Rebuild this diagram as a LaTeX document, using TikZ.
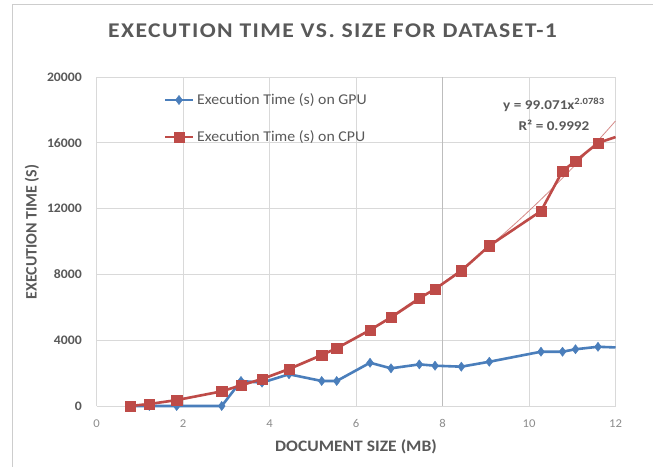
\documentclass[tikz,border=0pt]{standalone}
\usepackage{fontspec}
\setmainfont{Carlito}
\usetikzlibrary{plotmarks}

\definecolor{txtgray}{HTML}{595959}
\definecolor{ticklight}{HTML}{8C8C8C}
\definecolor{gridgray}{HTML}{D9D9D9}
\definecolor{midgrid}{HTML}{BDBDBD}
\definecolor{gpublue}{HTML}{4A7EBB}
\definecolor{cpured}{HTML}{BE4B48}
\definecolor{framegray}{HTML}{CDCDCD}

% horizontally widened lettering used throughout the chart
\newcommand\widetext[2]{\scalebox{#1}[1]{#2}}

\begin{document}
\begin{tikzpicture}[x=1bp,y=-1bp,
  gridline/.style={draw=gridgray, line width=0.8bp},
  gridmid/.style={draw=midgrid, line width=0.9bp},
  titletext/.style={text=txtgray, font=\fontsize{21}{24}\selectfont\bfseries\addfontfeatures{LetterSpace=6}, inner sep=0pt},
  axistitle/.style={text=txtgray, font=\fontsize{16}{18}\selectfont\bfseries, inner sep=0pt},
  ylab/.style={text=txtgray, font=\fontsize{13}{15}\selectfont\bfseries, inner sep=0pt, anchor=east},
  xlab/.style={text=ticklight, font=\fontsize{12}{14}\selectfont, inner sep=0pt},
  legtext/.style={text=txtgray, font=\fontsize{15}{17}\selectfont, inner sep=0pt, anchor=west},
  trendlab/.style={text=txtgray, font=\fontsize{13.5}{15}\selectfont\bfseries, inner sep=0pt},
  gpuline/.style={draw=gpublue, line width=2.6bp, line join=round},
  cpuline/.style={draw=cpured, line width=2.6bp, line join=round},
  gpumarks/.style={mark=diamond*, mark size=4.6bp, mark options={fill=gpublue, draw=gpublue, line width=0.4bp}},
  cpumarks/.style={mark=square*, mark size=5.2bp, mark options={fill=cpured, draw=cpured, line width=0.4bp}},
  trend/.style={draw=cpured!65, line width=0.8bp}]

\useasboundingbox (0,0) rectangle (653,467);
\fill[white] (0,0) rectangle (653,467);

% outer frame of the chart area
\draw[framegray, line width=0.8bp] (12,467) -- (12,4) -- (653,4);

% chart title
\node[titletext] (title) at (332.5,31) {\widetext{1.13}{EXECUTION TIME VS. SIZE FOR DATASET-1}};

% plot area: x in MB, y in thousands of seconds
\begin{scope}[shift={(96.5,406)}, x=43.25bp, y=16.45bp]
  \foreach \k in {4,8,12,16,20} \draw[gridline] (0,\k) -- (12,\k);
  \foreach \i in {2,4,6,10,12} \draw[gridline] (\i,0) -- (\i,20);
  \draw[gridmid] (8,0) -- (8,20);
  \draw[gridline] (0,0) -- (0,20);
  \draw[gridline] (0,0) -- (12,0);

  % value axis labels
  \node[ylab] (y0)  at (-0.335,0)  {\widetext{1.06}{0}};
  \node[ylab] (y4)  at (-0.335,4)  {\widetext{1.06}{4000}};
  \node[ylab] (y8)  at (-0.335,8)  {\widetext{1.06}{8000}};
  \node[ylab] (y12) at (-0.335,12) {\widetext{1.06}{12000}};
  \node[ylab] (y16) at (-0.335,16) {\widetext{1.06}{16000}};
  \node[ylab] (y20) at (-0.335,20) {\widetext{1.06}{20000}};

  % size axis labels
  \foreach \i in {0,2,...,12} \node[xlab] (x\i) at (\i,-1.05) {\widetext{1.06}{\i}};

  % power trendline of the CPU series
  \draw[trend] plot[domain=0.775:12, samples=80, smooth] (\x, {0.099071*(\x)^2.0783});

  % GPU series
  \draw[gpuline] plot coordinates {
    (0.775,0) (1.221,0) (1.854,0) (2.895,0) (3.341,1.52) (3.827,1.42)
    (4.451,1.93) (5.207,1.52) (5.554,1.52) (6.324,2.63) (6.809,2.29)
    (7.464,2.53) (7.827,2.45) (8.435,2.39) (9.082,2.69) (10.277,3.30)
    (10.775,3.30) (11.075,3.45) (11.595,3.60) (12,3.56)};
  \path[gpumarks] plot coordinates {
    (0.775,0) (1.221,0) (1.854,0) (2.895,0) (3.341,1.52) (3.827,1.42)
    (4.451,1.93) (5.207,1.52) (5.554,1.52) (6.324,2.63) (6.809,2.29)
    (7.464,2.53) (7.827,2.45) (8.435,2.39) (9.082,2.69) (10.277,3.30)
    (10.775,3.30) (11.075,3.45) (11.595,3.60)};

  % CPU series
  \draw[cpuline] plot coordinates {
    (0.775,0) (1.221,0.12) (1.854,0.36) (2.895,0.89) (3.341,1.26) (3.827,1.64)
    (4.451,2.25) (5.207,3.10) (5.554,3.51) (6.324,4.62) (6.809,5.39)
    (7.464,6.55) (7.827,7.11) (8.435,8.22) (9.082,9.74) (10.277,11.85)
    (10.775,14.29) (11.075,14.89) (11.595,15.99) (12,16.35)};
  \path[cpumarks] plot coordinates {
    (0.775,0) (1.221,0.12) (1.854,0.36) (2.895,0.89) (3.341,1.26) (3.827,1.64)
    (4.451,2.25) (5.207,3.10) (5.554,3.51) (6.324,4.62) (6.809,5.39)
    (7.464,6.55) (7.827,7.11) (8.435,8.22) (9.082,9.74) (10.277,11.85)
    (10.775,14.29) (11.075,14.89) (11.595,15.99)};
\end{scope}

% axis titles
\node[axistitle, rotate=90] (ytitle) at (32,232) {EXECUTION TIME (S)};
\node[axistitle] (xtitle) at (356,447) {\widetext{1.1}{DOCUMENT SIZE (MB)}};

% legend
\coordinate (lgA) at (165,100);
\coordinate (lgB) at (193,100);
\draw[gpuline] (lgA) -- (lgB);
\path[gpumarks] plot coordinates {(179,100)};
\node[legtext] (lgGPU) at (197,100) {\widetext{1.06}{Execution Time (s) on GPU}};
\coordinate (lcA) at (165,137);
\coordinate (lcB) at (193,137);
\draw[cpuline] (lcA) -- (lcB);
\path[cpumarks] plot coordinates {(179,137)};
\node[legtext] (lgCPU) at (197,137) {\widetext{1.06}{Execution Time (s) on CPU}};

% trendline equation
\node[trendlab] (treq) at (554,105) {\widetext{1.13}{y = 99.071x\textsuperscript{2.0783}}};
\node[trendlab] (trr2) at (554,125) {\widetext{1.13}{R² = 0.9992}};
\end{tikzpicture}
\end{document}
